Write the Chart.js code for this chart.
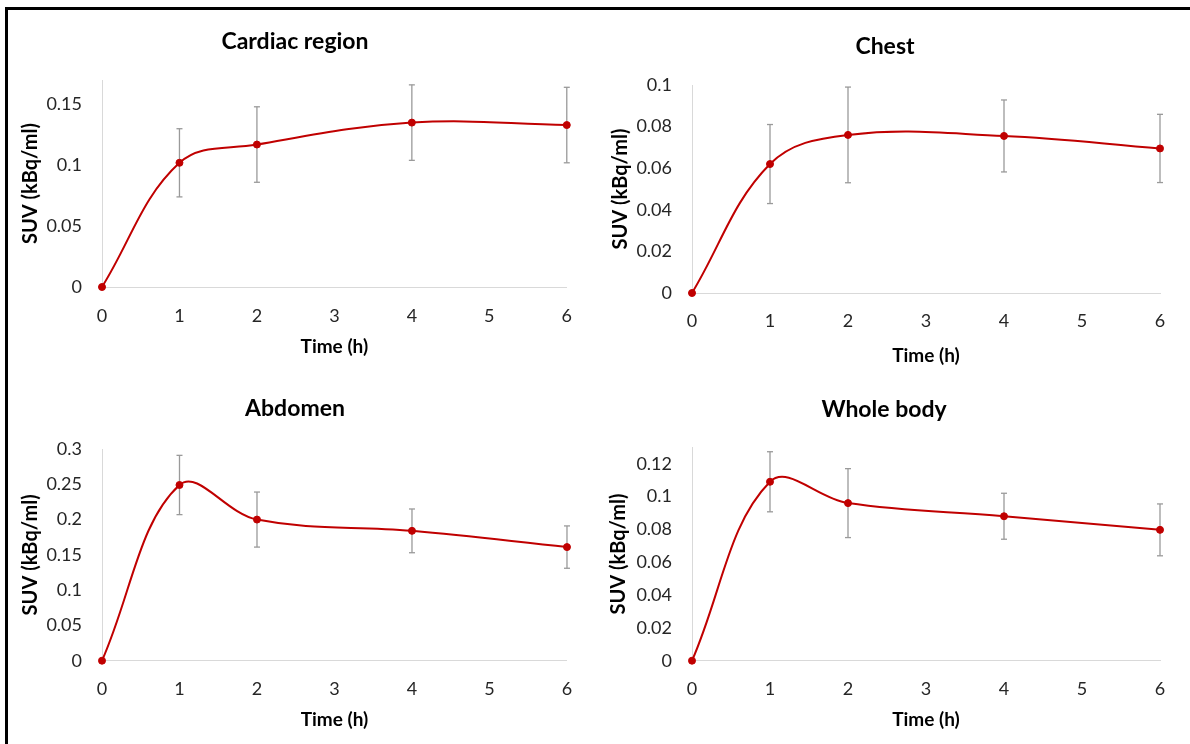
<!DOCTYPE html>
<html>
<head>
<meta charset="utf-8">
<script src="https://cdn.jsdelivr.net/npm/chart.js@4.4.0/dist/chart.umd.min.js"></script>
<style>
  html, body { margin: 0; padding: 0; background: #fff; }
  #wrap { position: relative; width: 1190px; height: 744px; overflow: hidden; }
  #wrap canvas { position: absolute; }
  #frame { position: absolute; left: 5px; top: 7px; width: 1300px; height: 900px;
           border-top: 3px solid #000; border-left: 3px solid #000; pointer-events: none; }
</style>
</head>
<body>
<div id="wrap">
  <canvas id="cardiac" width="590" height="370" style="left:0;top:0"></canvas>
  <canvas id="chest" width="600" height="370" style="left:590px;top:0"></canvas>
  <canvas id="abdomen" width="590" height="374" style="left:0;top:370px"></canvas>
  <canvas id="whole" width="600" height="374" style="left:590px;top:370px"></canvas>
  <div id="frame"></div>
</div>
<script>
// sampling times (h) and x tick labels
const timeH = [0, 1, 2, 4, 6];
const xTicks = [0, 1, 2, 3, 4, 5, 6];

// mean SUV and SD per region
const cardiacMean = [0, 0.102, 0.117, 0.135, 0.133];
const cardiacSd   = [0, 0.028, 0.031, 0.031, 0.031];
const cardiacTicks = [0, 0.05, 0.1, 0.15];

const chestMean = [0, 0.062, 0.076, 0.0755, 0.0695];
const chestSd   = [0, 0.019, 0.023, 0.0173, 0.0164];
const chestTicks = [0, 0.02, 0.04, 0.06, 0.08, 0.1];

const abdomenMean = [0, 0.249, 0.200, 0.184, 0.161];
const abdomenSd   = [0, 0.042, 0.039, 0.031, 0.030];
const abdomenTicks = [0, 0.05, 0.1, 0.15, 0.2, 0.25, 0.3];

const wholeMean = [0, 0.109, 0.096, 0.088, 0.0797];
const wholeSd   = [0, 0.0183, 0.021, 0.014, 0.0158];
const wholeTicks = [0, 0.02, 0.04, 0.06, 0.08, 0.1, 0.12];

const RED = '#c00000';
const GREY = '#9a9a9a';
const AXIS = '#d9d9d9';
const TICK = '#262626';

Chart.defaults.font.family = 'Lato, "Open Sans", sans-serif';

function makeChart(id, title, mean, sd, yMax, yTicks, lay) {
  // error bars as one gapped dataset: low, high, gap
  const errData = [];
  timeH.forEach((t, i) => {
    if (!sd[i]) return;
    errData.push({x: t, y: mean[i] - sd[i]}, {x: t, y: mean[i] + sd[i]}, {x: t, y: null});
  });

  new Chart(document.getElementById(id), {
    type: 'line',
    data: {
      datasets: [
        {
          label: title,
          data: timeH.map((t, i) => ({x: t, y: mean[i]})),
          borderColor: RED,
          backgroundColor: RED,
          borderWidth: 2,
          tension: 0.38,
          pointRadius: 3.5,
          pointBorderWidth: 1,
          pointBackgroundColor: RED,
          pointBorderColor: RED,
          clip: false
        },
        {
          label: 'SD',
          data: errData,
          borderColor: GREY,
          borderWidth: 1.3,
          tension: 0,
          pointStyle: 'line',
          pointRadius: 3,
          pointBorderWidth: 1.3,
          pointBorderColor: GREY,
          clip: false
        }
      ]
    },
    options: {
      responsive: false,
      animation: false,
      layout: { padding: { left: lay.pl, right: lay.pr, top: 0, bottom: 0 } },
      plugins: {
        legend: { display: false },
        tooltip: { enabled: false },
        title: {
          display: true, text: title, color: '#000',
          font: { size: 23, weight: 'bold' },
          padding: { top: lay.tTop - 0.6, bottom: lay.tBot - 0.6 }
        }
      },
      scales: {
        x: {
          type: 'linear', min: 0, max: 6,
          grid: { display: false, drawTicks: false },
          border: { color: AXIS, width: 1 },
          afterBuildTicks: s => { s.ticks = xTicks.map(v => ({value: v})); },
          afterFit: s => { s.height = lay.hx; },
          ticks: { padding: lay.tickPad, color: TICK, font: { size: 18 }, maxRotation: 0, autoSkip: false },
          title: {
            display: true, text: 'Time (h)', color: '#000',
            font: { size: 19, weight: 'bold' },
            padding: { top: 0, bottom: lay.xPad - 0.6 }
          }
        },
        y: {
          min: 0, max: yMax,
          grid: { display: false, drawTicks: false },
          border: { color: AXIS, width: 1 },
          afterBuildTicks: s => { s.ticks = yTicks.map(v => ({value: v})); },
          afterFit: s => { s.width = lay.wy; },
          ticks: { padding: 20, color: TICK, font: { size: 18 }, callback: v => String(v) },
          title: {
            display: true, text: 'SUV (kBq/ml)', color: '#000',
            font: { size: 20, weight: 'bold' },
            padding: { top: lay.yPad - 1.2, bottom: 0 }
          }
        }
      }
    }
  });
}

makeChart('cardiac', 'Cardiac region', cardiacMean, cardiacSd, 0.17, cardiacTicks,
  { pl: 20, pr: 20, wy: 82, yPad: 0, tTop: 28.8, tBot: 24.8, hx: 83, tickPad: 18, xPad: 12.2 });
makeChart('chest', 'Chest', chestMean, chestSd, 0.1, chestTicks,
  { pl: 20, pr: 30, wy: 82, yPad: 0, tTop: 33.5, tBot: 25.1, hx: 77, tickPad: 17.2, xPad: 3.2 });
makeChart('abdomen', 'Abdomen', abdomenMean, abdomenSd, 0.3, abdomenTicks,
  { pl: 20, pr: 20, wy: 82, yPad: 0, tTop: 25.8, tBot: 26.8, hx: 83.3, tickPad: 17.8, xPad: 13.2 });
makeChart('whole', 'Whole body', wholeMean, wholeSd, 0.13, wholeTicks,
  { pl: 18, pr: 30, wy: 84, yPad: 0, tTop: 26.1, tBot: 24.8, hx: 83.3, tickPad: 17.8, xPad: 13.2 });
</script>
</body>
</html>
